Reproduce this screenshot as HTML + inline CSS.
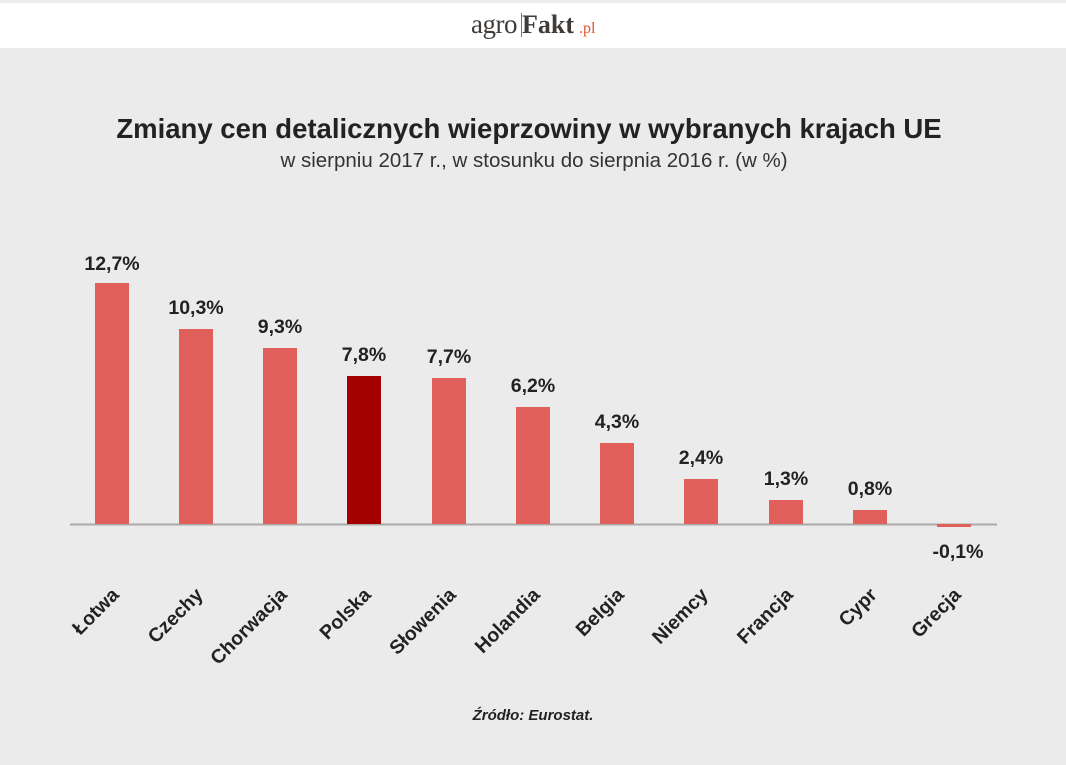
<!DOCTYPE html>
<html><head><meta charset="utf-8"><style>
html,body{margin:0;padding:0;}
body{width:1066px;height:765px;background:#ebebeb;overflow:hidden;position:relative;font-family:"Liberation Sans",sans-serif;}
</style></head><body>
<svg width="1066" height="765" xmlns="http://www.w3.org/2000/svg" style="position:absolute;left:0;top:0">
<rect x="0" y="0" width="1066" height="765" fill="#ebebeb"/>
<rect x="0" y="3" width="1066" height="45" fill="#ffffff"/>
<text x="471" y="33" font-family="Liberation Serif, serif" font-size="27" letter-spacing="-0.5" fill="#3f3b38">agro</text>
<rect x="521" y="13" width="1" height="24" fill="#777"/>
<text x="522" y="33" font-family="Liberation Serif, serif" font-size="26" font-weight="bold" fill="#3f3b38">Fakt</text>
<text x="579" y="33" font-family="Liberation Serif, serif" font-size="16" fill="#e8502a">.pl</text>
<text x="529" y="138" text-anchor="middle" font-size="27.5" font-weight="bold" fill="#222">Zmiany cen detalicznych wieprzowiny w wybranych krajach UE</text>
<text x="534" y="167" text-anchor="middle" font-size="20.5" fill="#333">w sierpniu 2017 r., w stosunku do sierpnia 2016 r. (w %)</text>
<line x1="70" y1="524.5" x2="997" y2="524.5" stroke="#aaa" stroke-width="2"/>
<g font-size="19.5" font-weight="bold" fill="#222" text-anchor="middle">
<rect x="95" y="283" width="34" height="241" fill="#e2605b"/><text x="112" y="270">12,7%</text>
<rect x="179" y="329" width="34" height="195" fill="#e2605b"/><text x="196" y="314">10,3%</text>
<rect x="263" y="348" width="34" height="176" fill="#e2605b"/><text x="280" y="333">9,3%</text>
<rect x="347" y="376" width="34" height="148" fill="#a50000"/><text x="364" y="361">7,8%</text>
<rect x="432" y="378" width="34" height="146" fill="#e2605b"/><text x="449" y="363">7,7%</text>
<rect x="516" y="407" width="34" height="117" fill="#e2605b"/><text x="533" y="392">6,2%</text>
<rect x="600" y="443" width="34" height="81" fill="#e2605b"/><text x="617" y="428">4,3%</text>
<rect x="684" y="479" width="34" height="45" fill="#e2605b"/><text x="701" y="464">2,4%</text>
<rect x="769" y="500" width="34" height="24" fill="#e2605b"/><text x="786" y="485">1,3%</text>
<rect x="853" y="510" width="34" height="14" fill="#e2605b"/><text x="870" y="495">0,8%</text>
<rect x="937" y="524" width="34" height="3" fill="#e2605b"/><text x="958" y="558">-0,1%</text>
</g>
<g font-size="19.5" font-weight="bold" fill="#222" text-anchor="end">
<text transform="translate(120,596) rotate(-45)">Łotwa</text>
<text transform="translate(204,596) rotate(-45)">Czechy</text>
<text transform="translate(288,596) rotate(-45)">Chorwacja</text>
<text transform="translate(372,596) rotate(-45)">Polska</text>
<text transform="translate(457,596) rotate(-45)">Słowenia</text>
<text transform="translate(541,596) rotate(-45)">Holandia</text>
<text transform="translate(625,596) rotate(-45)">Belgia</text>
<text transform="translate(709,596) rotate(-45)">Niemcy</text>
<text transform="translate(794,596) rotate(-45)">Francja</text>
<text transform="translate(878,596) rotate(-45)">Cypr</text>
<text transform="translate(962,596) rotate(-45)">Grecja</text>
</g>
<text x="533" y="720" text-anchor="middle" font-size="15" font-weight="bold" font-style="italic" fill="#222">Źródło: Eurostat.</text>
</svg>
</body></html>
